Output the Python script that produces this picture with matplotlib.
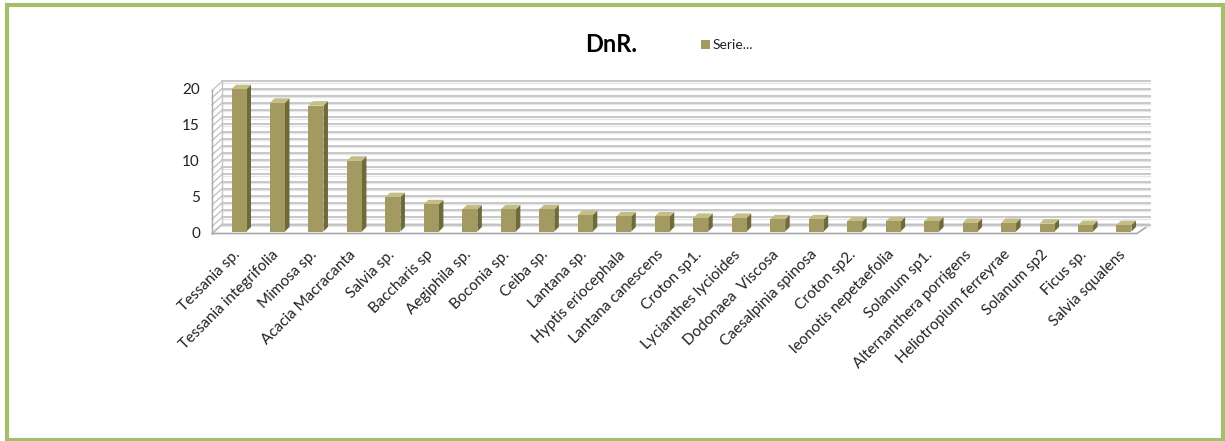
import matplotlib
matplotlib.use("Agg")
import matplotlib.pyplot as plt
from matplotlib.patches import Polygon, Rectangle

categories = ["Tessania sp.", "Tessania integrifolia", "Mimosa sp.", "Acacia Macracanta",
              "Salvia sp.", "Baccharis sp", "Aegiphila sp.", "Boconia sp.", "Ceiba sp.",
              "Lantana sp.", "Hyptis eriocephala", "Lantana canescens", "Croton sp1.",
              "Lycianthes lycioides", "Dodonaea  Viscosa", "Caesalpinia spinosa",
              "Croton sp2.", "leonotis nepetaefolia", "Solanum sp1.",
              "Alternanthera porrigens", "Heliotropium ferreyrae", "Solanum sp2",
              "Ficus sp.", "Salvia squalens"]
values = [19.9, 18.0, 17.6, 9.9, 4.8, 3.8, 3.1, 3.1, 3.1, 2.3, 2.1, 2.1, 1.9, 1.9,
          1.7, 1.7, 1.4, 1.4, 1.4, 1.2, 1.2, 1.1, 0.9, 0.9]
yticks = [0, 5, 10, 15, 20]
series_name = "Serie..."
title = "DnR."

plt.rcParams['font.family'] = ['Lato', 'DejaVu Sans']

W, H = 1225, 441
fig = plt.figure(figsize=(W / 100, H / 100), dpi=100)

# pixel geometry
x_left_px, x_right_px = 212, 1137
y0_px = 233.5
uy = 7.15
xlim = (-0.65, 23.39)
ux = (x_right_px - x_left_px) / (xlim[1] - xlim[0])
ytop = 21.5
ax = fig.add_axes([x_left_px / W, (H - y0_px) / H,
                   (x_right_px - x_left_px) / W, ytop * uy / H])
ax.set_xlim(*xlim)
ax.set_ylim(0, ytop)
ax.axis('off')

grid_c = '#c4c4c4'
edge_c = '#a8a8a8'
# depth offsets (data units)
bdx, bdy = 10 / ux, 9 / uy
wmax = 20

# floor
floor = Polygon([(xlim[0], 0), (xlim[1], 0), (xlim[1] + bdx * 1.3, bdy),
                 (xlim[0] + bdx, bdy)], closed=True, facecolor='white',
                edgecolor=edge_c, lw=1.2, clip_on=False, zorder=1)
ax.add_patch(floor)
# back wall gridlines and side wall diagonals
for k in range(0, wmax + 1):
    ax.plot([xlim[0] + bdx, xlim[1] + bdx * 1.3], [k + bdy, k + bdy], color=grid_c,
            lw=1.3, clip_on=False, zorder=1.5)
    ax.plot([xlim[0] + bdx, xlim[1] + bdx * 1.3], [k + bdy - 0.18, k + bdy - 0.18],
            color='#e6e6e6', lw=1.0, clip_on=False, zorder=1.4)
    ax.plot([xlim[0], xlim[0] + bdx], [k, k + bdy], color=grid_c, lw=1.0,
            clip_on=False, zorder=1.5)
ax.plot([xlim[0], xlim[0]], [0, wmax], color=edge_c, lw=1.0, clip_on=False, zorder=1.6)
ax.plot([xlim[0] + bdx, xlim[0] + bdx], [bdy, wmax + bdy], color=grid_c, lw=1.0,
        clip_on=False, zorder=1.6)

# bars with faux 3D
front_c = '#a39a62'
side_c = '#6f6a3a'
top_c = '#c5bd86'
w = 15 / ux
sx, sy = 4.5 / ux, 4.5 / uy
ox, oy = 2 / ux, 2 / uy  # bar sits slightly behind front floor edge
x = list(range(len(categories)))
for xi, v in zip(x, values):
    xl = xi - w / 2 + ox
    xr = xi + w / 2 + ox
    b = oy
    t = v + oy
    ax.add_patch(Polygon([(xr, b), (xr + sx, b + sy), (xr + sx, t + sy), (xr, t)],
                         closed=True, facecolor=side_c, edgecolor='none', zorder=3,
                         clip_on=False))
    ax.add_patch(Polygon([(xl, t), (xr, t), (xr + sx, t + sy), (xl + sx, t + sy)],
                         closed=True, facecolor=top_c, edgecolor='none', zorder=3,
                         clip_on=False))
ax.bar([xi + ox for xi in x], values, width=w, bottom=oy, color=front_c,
       edgecolor='none', zorder=4, clip_on=False)

# y tick labels
for t in yticks:
    ax.text(xlim[0] - 12 / ux, t, str(t), ha='right', va='center', fontsize=11,
            color='#222222')

# x tick labels
for xi, lab in zip(x, categories):
    ax.text(xi + 0.03, -19 / uy, lab, rotation=45, rotation_mode='anchor',
            ha='right', va='center', fontsize=11, color='#222222')

# title and legend
fig.text(611 / W, 1 - 45 / H, title, ha='center', va='center', fontsize=17,
         fontweight='bold', color='black')
fig.patches.append(Rectangle((701 / W, 1 - 49 / H), 9 / W, 9 / H, transform=fig.transFigure,
                             facecolor=front_c, edgecolor='none'))
fig.text(713 / W, 1 - 45 / H, series_name, ha='left', va='center', fontsize=10,
         color='#222222')

# outer frame
fig.patches.append(Rectangle((7 / W, 1.5 / H), (1222.5 - 7) / W, (434.5) / H,
                             transform=fig.transFigure, facecolor='none',
                             edgecolor='#a2c06a', lw=3.0))

fig.savefig('out.png', dpi=100)
